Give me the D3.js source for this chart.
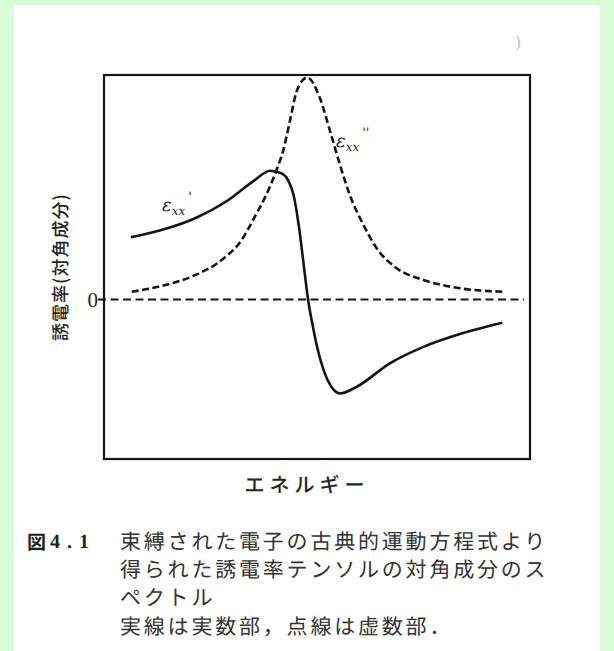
<!DOCTYPE html>
<html>
<head>
<meta charset="utf-8">
<script src="https://cdn.jsdelivr.net/npm/d3@7"></script>
<style>
  html, body { margin: 0; padding: 0; background: #d8fcd8; }
  svg { display: block; }
  text { text-rendering: geometricPrecision; }
</style>
</head>
<body>
<svg id="fig" width="614" height="651"></svg>
<script>
// Diagonal dielectric tensor component vs. photon energy (bound-electron model)
// Real part ε_xx' (solid) and imaginary part ε_xx'' (dashed), arbitrary units.
const realEnergy = [0.63, 1.35, 2.14, 2.92, 3.54, 3.90, 4.17, 4.32, 4.45, 4.57, 4.68, 4.79,
                    4.91, 5.02, 5.14, 5.26, 5.40, 5.54, 5.93, 6.71, 7.50, 8.28, 9.35];
const realValues = [2.80, 3.13, 3.66, 4.48, 5.38, 5.80, 5.68, 5.38, 4.71, 3.36, 1.69, 0.00,
                    -1.28, -2.27, -3.09, -3.67, -4.08, -4.23, -3.93, -2.87, -2.13, -1.60, -1.05];

const imagEnergy = [0.65, 1.35, 2.14, 2.76, 3.23, 3.54, 3.86, 4.05, 4.21, 4.37, 4.52,
                    4.77, 5.07, 5.31, 5.54, 5.77, 6.09, 6.40, 6.87, 7.50, 8.28, 9.37];
const imagValues = [0.35, 0.61, 1.10, 1.78, 2.68, 3.73, 4.93, 5.83, 6.73, 8.09, 9.36,
                    10.0, 9.06, 7.56, 6.06, 4.71, 3.36, 2.31, 1.41, 0.88, 0.53, 0.35];

const yTickValues = [0];
const xAxisTitle = "エネルギー";
const yAxisTitle = "誘電率(対角成分)";
const captionNumber = "4.1";
const captionLines = [
  "束縛された電子の古典的運動方程式より",
  "得られた誘電率テンソルの対角成分のス",
  "ペクトル",
  "実線は実数部，点線は虚数部．"
];

const svg = d3.select("#fig");

// page area
svg.append("rect").attr("x", 14).attr("y", 5).attr("width", 586).attr("height", 646)
  .attr("fill", "#ffffff");

// faint show-through mark near top
svg.append("text").attr("x", 515).attr("y", 48).attr("fill", "#c4c4c4")
  .attr("font-family", "DejaVu Serif").attr("font-size", 16).text(")");

const x = d3.scaleLinear().domain([0, 10]).range([104, 530]);
const y = d3.scaleLinear().domain([-7.18, 10.11]).range([459, 75]);

const ink = "#151515";
const textInk = "#262626";

// frame
svg.append("rect")
  .attr("x", x.range()[0]).attr("y", y.range()[1])
  .attr("width", x.range()[1] - x.range()[0])
  .attr("height", y.range()[0] - y.range()[1])
  .attr("fill", "none").attr("stroke", ink).attr("stroke-width", 2.2);

// zero reference line
svg.append("line")
  .attr("x1", 98).attr("x2", 524)
  .attr("y1", y(0)).attr("y2", y(0))
  .attr("stroke", ink).attr("stroke-width", 2)
  .attr("stroke-dasharray", "8,4.5");

// y axis: only the zero tick label
const yAxis = d3.axisLeft(y).tickValues(yTickValues).tickSize(0).tickPadding(2)
  .tickFormat(d3.format("d"));
const gy = svg.append("g").attr("transform", "translate(100,0)").call(yAxis);
gy.select(".domain").remove();
gy.selectAll("text")
  .attr("font-family", "Liberation Serif, DejaVu Serif, serif")
  .attr("font-size", 21).attr("fill", textInk);

const line = d3.line()
  .x(d => x(d[0]))
  .y(d => y(d[1]))
  .curve(d3.curveMonotoneX);

const realPts = realEnergy.map((e, i) => [e, realValues[i]]);
const imagPts = imagEnergy.map((e, i) => [e, imagValues[i]]);

svg.append("path").datum(imagPts).attr("d", line)
  .attr("fill", "none").attr("stroke", ink).attr("stroke-width", 2.6)
  .attr("stroke-dasharray", "7,3.5");

svg.append("path").datum(realPts).attr("d", line)
  .attr("fill", "none").attr("stroke", ink).attr("stroke-width", 2.6)
  .attr("stroke-linejoin", "round");

// curve labels
function epsLabel(px, py, primes) {
  const t = svg.append("text").attr("x", px).attr("y", py)
    .attr("font-family", "DejaVu Serif, serif").attr("font-style", "italic")
    .attr("font-size", 18).attr("fill", textInk);
  t.append("tspan").text("ε");
  t.append("tspan").attr("font-size", 12).attr("dy", 4).text("xx");
  t.append("tspan").attr("font-size", 13).attr("dy", -14).attr("dx", 3).text(primes);
}
epsLabel(162, 211, "'");
epsLabel(336, 147, "''");

// axis titles
svg.append("text")
  .attr("x", 307).attr("y", 483)
  .attr("text-anchor", "middle").attr("dominant-baseline", "central")
  .attr("font-family", "Noto Sans CJK JP").attr("font-weight", 500)
  .attr("font-size", 20).attr("letter-spacing", 5).attr("fill", textInk)
  .text(xAxisTitle);

svg.append("text")
  .attr("transform", "translate(60,267) rotate(-90)")
  .attr("text-anchor", "middle").attr("dominant-baseline", "central")
  .attr("font-family", "Noto Sans CJK JP").attr("font-weight", 500)
  .attr("font-size", 18).attr("letter-spacing", 1).attr("fill", textInk)
  .text(yAxisTitle);

// caption
const cap = svg.append("g");
cap.append("text").attr("x", 27).attr("y", 541).attr("dominant-baseline", "central")
  .attr("font-family", "Noto Sans CJK JP").attr("font-weight", 700)
  .attr("font-size", 19).attr("fill", "#1e1e1e").text("図");
cap.append("text").attr("x", 50).attr("y", 542).attr("dominant-baseline", "central")
  .attr("font-family", "Liberation Serif, DejaVu Serif, serif").attr("font-weight", 700)
  .attr("font-size", 20).attr("letter-spacing", 7).attr("fill", "#1e1e1e").text(captionNumber);

const lineYs = [541, 569, 597, 626];
captionLines.forEach((s, i) => {
  cap.append("text").attr("x", 120).attr("y", lineYs[i])
    .attr("dominant-baseline", "central")
    .attr("font-family", "Noto Sans CJK JP").attr("font-weight", 400)
    .attr("font-size", 21).attr("letter-spacing", 2.8).attr("fill", "#333")
    .text(s);
});
</script>
</body>
</html>
